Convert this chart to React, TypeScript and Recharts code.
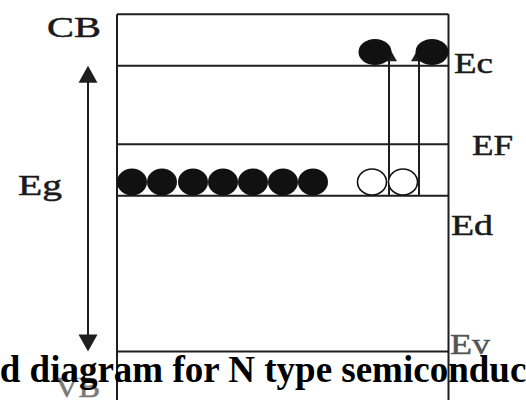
import React from 'react';
import { ComposedChart, XAxis, YAxis, Scatter, ReferenceLine } from 'recharts';

// Coordinate system: position (arbitrary units) vs energy (arbitrary units, Ev = 0, Ec = 10)
const X_DOMAIN: [number, number] = [0, 10.52];
const Y_DOMAIN: [number, number] = [-1.7, 12.3];

// Band box
const boxLeft = 2.34;
const boxRight = 8.97;
const boxTop = 11.8;
const boxBottom = -1.7;

// Energy levels
const levelNames = ['Ec', 'EF', 'Ed', 'Ev'];
const levelValues = [10, 7.25, 5.45, 0];

// Donor electrons sitting on Ed
const donorX = [2.64, 3.24, 3.86, 4.46, 5.06, 5.66, 6.26];
const donorY = [5.93, 5.93, 5.93, 5.93, 5.93, 5.93, 5.93];

// Ionised donors (holes left behind)
const holeX = [7.44, 8.06];
const holeY = [5.93, 5.93];

// Electrons excited into conduction band
const excitedX = [7.5, 8.64];
const excitedY = [10.48, 10.48];

// Transition arrows
const transitionX = [7.78, 8.38];
const transitionFrom = [5.45, 5.45];
const transitionTo = [10.65, 10.65];

// Band-gap arrow
const gapArrowX = 1.76;
const gapArrowFrom = 0;
const gapArrowTo = 10;

// Text labels (baseline positions in chart units)
const labelTexts = ['CB', 'Ec', 'EF', 'Eg', 'Ed', 'Ev', 'VB'];
const labelX = [0.94, 9.08, 9.44, 0.36, 9.02, 9.0, 1.1];
const labelY = [11.0, 9.75, 6.88, 5.475, 4.075, -0.09, -1.595];

const titleText = 'Band diagram for N type semiconductor';

const LINE = '#1e1e1e';
const labelWidth: Record<string, number> = { CB: 54, Ec: 39, EF: 41, Eg: 44, Ed: 42, Ev: 40, VB: 45 };
const labelColor: Record<string, string> = { Ev: '#555', VB: '#7a7a7a' };

const donors = donorX.map((x, i) => ({ x, y: donorY[i] }));
const holes = holeX.map((x, i) => ({ x, y: holeY[i] }));
const excited = excitedX.map((x, i) => ({ x, y: excitedY[i] }));
const labels = labelTexts.map((label, i) => ({ x: labelX[i], y: labelY[i], label }));

function arrowHead(tx: number, ty: number, fx: number, fy: number, h: number, w: number) {
  const len = Math.hypot(tx - fx, ty - fy) || 1;
  const dx = (tx - fx) / len;
  const dy = (ty - fy) / len;
  const bx = tx - dx * h;
  const by = ty - dy * h;
  const nx = -dy;
  const ny = dx;
  return `${tx},${ty} ${bx + (nx * w) / 2},${by + (ny * w) / 2} ${bx - (nx * w) / 2},${by - (ny * w) / 2}`;
}

const makeArrow = (both: boolean, h: number, w: number) => (props: any) => {
  const { x1, y1, x2, y2 } = props;
  const top = y1 < y2 ? { x: x1, y: y1 } : { x: x2, y: y2 };
  const bot = y1 < y2 ? { x: x2, y: y2 } : { x: x1, y: y1 };
  const lineTop = top.y + h * 0.6;
  const lineBot = both ? bot.y - h * 0.6 : bot.y;
  return (
    <g>
      <line x1={top.x} y1={lineTop} x2={bot.x} y2={lineBot} stroke={LINE} strokeWidth={2} />
      <polygon points={arrowHead(top.x, top.y, bot.x, bot.y, h, w)} fill={LINE} />
      {both && <polygon points={arrowHead(bot.x, bot.y, top.x, top.y, h, w)} fill={LINE} />}
    </g>
  );
};

const DonorShape = (p: any) => <ellipse cx={p.cx} cy={p.cy} rx={15} ry={13.5} fill="#111" />;
const HoleShape = (p: any) => (
  <ellipse cx={p.cx} cy={p.cy} rx={14.5} ry={13} fill="#fff" stroke="#111" strokeWidth={1.6} />
);
const ExcitedShape = (p: any) => <ellipse cx={p.cx} cy={p.cy} rx={16.5} ry={13} fill="#111" />;
const LabelShape = (p: any) => {
  const t = p.payload.label as string;
  const c = labelColor[t] || '#1a1a1a';
  return (
    <text
      x={p.cx}
      y={p.cy}
      fontFamily="'Liberation Serif', 'Times New Roman', serif"
      fontSize={30}
      fill={c}
      stroke={c}
      strokeWidth={0.5}
      textLength={labelWidth[t]}
      lengthAdjust="spacingAndGlyphs"
    >
      {t}
    </text>
  );
};

export default function App() {
  return (
    <div style={{ position: 'absolute', left: 0, top: 0, width: 526, height: 400, background: '#fff' }}>
      <ComposedChart width={526} height={400} margin={{ top: 0, right: 0, bottom: 0, left: 0 }}>
        <XAxis type="number" dataKey="x" domain={X_DOMAIN} hide allowDataOverflow />
        <YAxis type="number" dataKey="y" domain={Y_DOMAIN} hide allowDataOverflow />

        <ReferenceLine
          segment={[{ x: boxLeft, y: boxTop }, { x: boxRight, y: boxTop }]}
          stroke={LINE}
          strokeWidth={2}
          ifOverflow="visible"
        />
        <ReferenceLine
          segment={[{ x: boxLeft, y: boxBottom }, { x: boxLeft, y: boxTop }]}
          stroke={LINE}
          strokeWidth={2}
          ifOverflow="visible"
        />
        <ReferenceLine
          segment={[{ x: boxRight, y: boxBottom }, { x: boxRight, y: boxTop }]}
          stroke={LINE}
          strokeWidth={2}
          ifOverflow="visible"
        />
        {levelValues.map((v, i) => (
          <ReferenceLine
            key={levelNames[i]}
            segment={[{ x: boxLeft, y: v }, { x: boxRight, y: v }]}
            stroke={LINE}
            strokeWidth={2}
            ifOverflow="visible"
          />
        ))}

        <Scatter data={donors} shape={DonorShape} isAnimationActive={false} />
        <Scatter data={holes} shape={HoleShape} isAnimationActive={false} />
        <Scatter data={excited} shape={ExcitedShape} isAnimationActive={false} />

        {transitionX.map((x, i) => (
          <ReferenceLine
            key={'t' + i}
            segment={[{ x, y: transitionFrom[i] }, { x, y: transitionTo[i] }]}
            ifOverflow="visible"
            shape={makeArrow(false, 14, 16)}
          />
        ))}

        <ReferenceLine
          segment={[{ x: gapArrowX, y: gapArrowFrom }, { x: gapArrowX, y: gapArrowTo }]}
          ifOverflow="visible"
          shape={makeArrow(true, 17, 19)}
        />

        <Scatter data={labels} shape={LabelShape} isAnimationActive={false} />
      </ComposedChart>
      <svg
        width={526}
        height={400}
        style={{ position: 'absolute', left: 0, top: 0, pointerEvents: 'none' }}
      >
        <text
          x={-64}
          y={382}
          fontFamily="'Liberation Serif', 'Times New Roman', serif"
          fontWeight="bold"
          fontSize={37}
          fill="#000"
        >
          {titleText}
        </text>
      </svg>
    </div>
  );
}
